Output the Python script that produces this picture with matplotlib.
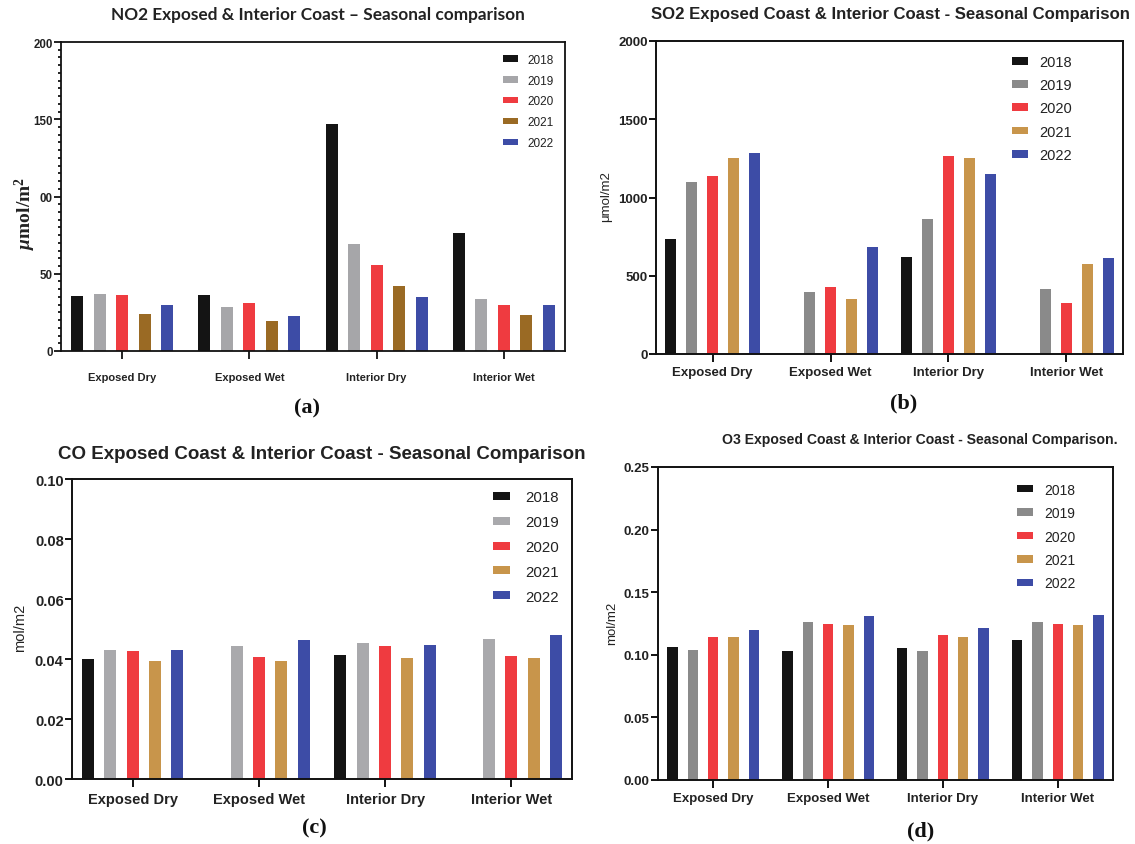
import numpy as np
import matplotlib
matplotlib.use("Agg")
import matplotlib.pyplot as plt
from matplotlib.ticker import MultipleLocator, FixedLocator, FixedFormatter

plt.rcParams['font.family'] = ['Liberation Sans', 'DejaVu Sans']
plt.rcParams['mathtext.fontset'] = 'custom'
plt.rcParams['mathtext.rm'] = 'Liberation Serif:bold'
plt.rcParams['mathtext.it'] = 'Liberation Serif:italic:bold'

# ---------------- data ----------------
categories = ["Exposed Dry", "Exposed Wet", "Interior Dry", "Interior Wet"]
years = ["2018", "2019", "2020", "2021", "2022"]

no2_2018 = [35.6, 36.5, 146.9, 76.2]
no2_2019 = [37.1, 28.7, 69.5, 33.4]
no2_2020 = [36.0, 30.9, 55.7, 29.6]
no2_2021 = [24.2, 19.2, 42.1, 23.5]
no2_2022 = [29.8, 22.4, 35.2, 30.0]

so2_2018 = [734, np.nan, 617, np.nan]
so2_2019 = [1098, 394, 860, 415]
so2_2020 = [1138, 428, 1268, 328]
so2_2021 = [1253, 353, 1253, 572]
so2_2022 = [1285, 685, 1147, 615]

co_2018 = [0.0401, np.nan, 0.0412, np.nan]
co_2019 = [0.0429, 0.0442, 0.0455, 0.0466]
co_2020 = [0.0427, 0.0408, 0.0444, 0.0410]
co_2021 = [0.0392, 0.0394, 0.0402, 0.0405]
co_2022 = [0.0431, 0.0464, 0.0448, 0.0479]

o3_2018 = [0.1059, 0.1027, 0.1056, 0.1122]
o3_2019 = [0.1035, 0.1261, 0.1027, 0.1261]
o3_2020 = [0.1146, 0.1250, 0.1162, 0.1247]
o3_2021 = [0.1141, 0.1237, 0.1144, 0.1237]
o3_2022 = [0.1200, 0.1309, 0.1215, 0.1316]

no2_ticks = [0, 50, 100, 150, 200]
no2_ticklabels = ["0", "50", "00", "150", "200"]
so2_ticks = [0, 500, 1000, 1500, 2000]
co_ticks = [0.00, 0.02, 0.04, 0.06, 0.08, 0.10]
o3_ticks = [0.00, 0.05, 0.10, 0.15, 0.20, 0.25]

titles = ["NO2 Exposed & Interior Coast \u2013 Seasonal comparison",
          "SO2 Exposed Coast & Interior Coast - Seasonal Comparison",
          "CO Exposed Coast & Interior Coast - Seasonal Comparison",
          "O3 Exposed Coast & Interior Coast - Seasonal Comparison."]

# ---------------- styles ----------------
black = "#141414"
red = "#ef3b40"
blue = "#3d4ca6"
colors_a = [black, "#a6a6a9", red, "#9a6a24", blue]
colors_b = [black, "#8a8a8a", red, "#c8954b", blue]
colors_c = [black, "#a9a9ac", red, "#c8954b", blue]
colors_d = [black, "#8a8a8a", red, "#c8954b", blue]

W, H = 1135, 845
fig = plt.figure(figsize=(W / 100, H / 100), dpi=100)


def add_ax(l, r, t, b):
    return fig.add_axes([l / W, 1 - b / H, (r - l) / W, (b - t) / H])


def draw(ax, series, colors, ylim, ticks, ticklabels, tick_fs, cat_fs, cat_pad,
         leg_fs, leg_anchor, leg_spacing, leg_hl, leg_pad, bar_w, lw=1.4):
    x = np.arange(len(categories))
    step = 0.177
    for i, (vals, c) in enumerate(zip(series, colors)):
        ax.bar(x + (i - 2) * step, vals, width=bar_w, color=c, label=years[i], zorder=2)
    ax.set_xlim(-0.48, len(categories) - 1 + 0.48)
    ax.set_ylim(*ylim)
    ax.yaxis.set_major_locator(FixedLocator(ticks))
    ax.yaxis.set_major_formatter(FixedFormatter(ticklabels))
    ax.set_xticks(x)
    ax.set_xticklabels(categories, fontsize=cat_fs, fontweight='bold', color='#222222')
    for s in ax.spines.values():
        s.set_linewidth(lw)
        s.set_color('#111111')
    ax.tick_params(axis='x', length=6, width=lw, pad=cat_pad, color='#111111')
    ax.tick_params(axis='y', length=5, width=lw, pad=1, labelsize=tick_fs, color='#111111')
    for lab in ax.get_yticklabels():
        lab.set_fontweight('bold')
        lab.set_color('#222222')
    leg = ax.legend(loc='upper left', bbox_to_anchor=leg_anchor, frameon=False,
                    fontsize=leg_fs, borderpad=0, borderaxespad=0,
                    labelspacing=leg_spacing, handlelength=leg_hl, handleheight=0.45,
                    handletextpad=leg_pad)
    for t in leg.get_texts():
        t.set_color('#222222')
    return ax


# (a) NO2
ax_a = add_ax(61, 565, 43, 352)
draw(ax_a, [no2_2018, no2_2019, no2_2020, no2_2021, no2_2022], colors_a,
     (0, 200), no2_ticks, no2_ticklabels, 8.3, 8, 9, 8.5, (0.877, 0.962), 0.75, 1.25, 0.85, 0.095, lw=1.3)
ax_a.yaxis.set_minor_locator(MultipleLocator(5))
ax_a.tick_params(axis='y', which='minor', length=2.5, width=1.2)
ax_a.tick_params(axis='x', length=6, pad=9)

# (b) SO2
ax_b = add_ax(656, 1123, 42, 355)
draw(ax_b, [so2_2018, so2_2019, so2_2020, so2_2021, so2_2022], colors_b,
     (0, 2000), so2_ticks, [str(t) for t in so2_ticks], 9.5, 9.5, 2.5, 10.5,
     (0.763, 0.955), 0.63, 1.1, 0.75, 0.092)

# (c) CO
ax_c = add_ax(72, 572, 480, 780)
draw(ax_c, [co_2018, co_2019, co_2020, co_2021, co_2022], colors_c,
     (0, 0.10), co_ticks, [f"{t:.2f}" for t in co_ticks], 10.5, 10.5, 3.5, 10.8,
     (0.842, 0.962), 0.72, 1.15, 1.0, 0.095)

# (d) O3
ax_d = add_ax(658, 1113, 468, 781)
draw(ax_d, [o3_2018, o3_2019, o3_2020, o3_2021, o3_2022], colors_d,
     (0, 0.25), o3_ticks, [f"{t:.2f}" for t in o3_ticks], 9.5, 9.5, 2.5, 10,
     (0.79, 0.950), 0.68, 1.15, 0.8, 0.09)

# titles
fig.text(318 / W, 1 - 15 / H, titles[0], ha='center', va='center', fontsize=12.4,
         fontweight='bold', family=['Lato', 'DejaVu Sans'], color='#222222')
fig.text(890 / W, 1 - 14 / H, titles[1], ha='center', va='center', fontsize=12.1,
         fontweight='bold', color='#222222')
fig.text(322 / W, 1 - 455 / H, titles[2], ha='center', va='center', fontsize=13.5,
         fontweight='bold', color='#222222')
fig.text(920 / W, 1 - 440 / H, titles[3], ha='center', va='center', fontsize=10.1,
         fontweight='bold', color='#222222')

# y labels
fig.text(25 / W, 1 - 213 / H, r"$\mu$mol/m$^2$", rotation=90, ha='center', va='center',
         fontsize=14, fontweight='bold', family=['Liberation Serif', 'DejaVu Serif'], color='#222222')
fig.text(606 / W, 1 - 197 / H, "\u03bcmol/m2", rotation=90, ha='center', va='center',
         fontsize=9.5, color='#222222')
fig.text(20 / W, 1 - 628 / H, "mol/m2", rotation=90, ha='center', va='center',
         fontsize=10.5, color='#222222')
fig.text(612 / W, 1 - 623 / H, "mol/m2", rotation=90, ha='center', va='center',
         fontsize=9.5, color='#222222')

# panel letters
for (px, py, lab) in [(307, 408, "(a)"), (904, 403, "(b)"), (314, 828, "(c)"), (921, 831, "(d)")]:
    fig.text(px / W, 1 - py / H, lab, ha='center', va='center', fontsize=16,
             fontweight='bold', family=['Liberation Serif', 'DejaVu Serif'], color='#111111')

fig.savefig("out.png", dpi=100)
